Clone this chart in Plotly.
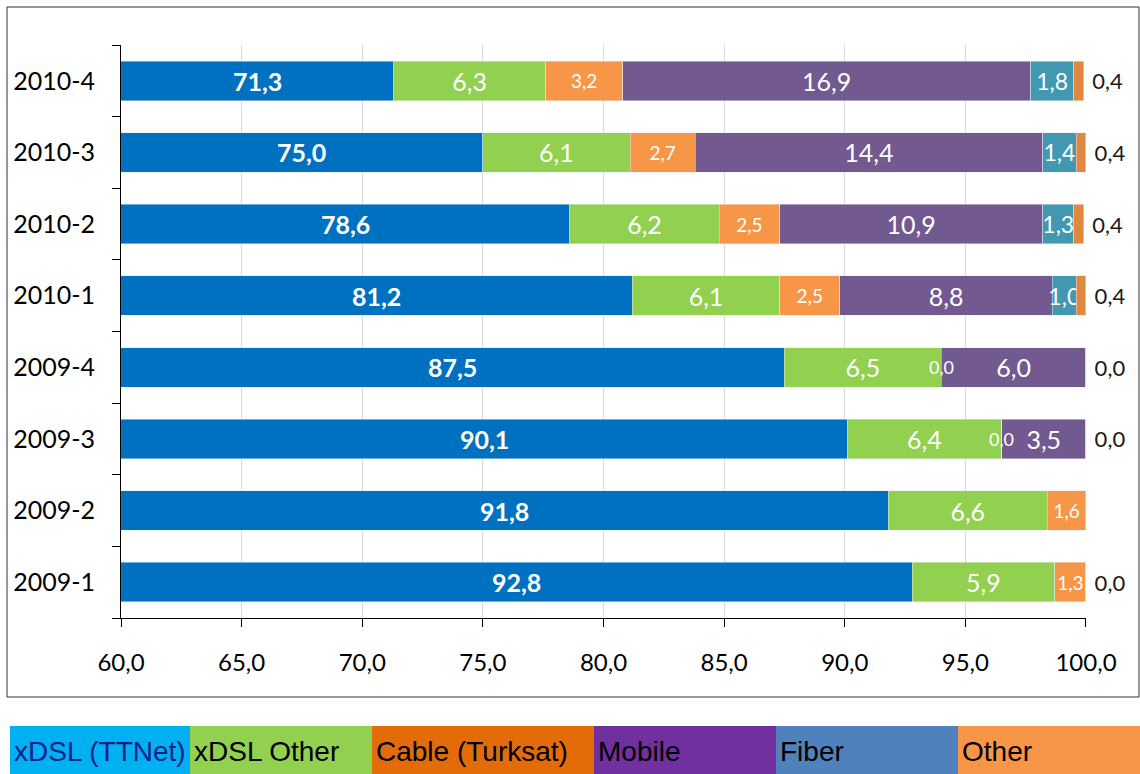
import plotly.graph_objects as go

# quarters, bottom to top
quarters = ["2009-1", "2009-2", "2009-3", "2009-4", "2010-1", "2010-2", "2010-3", "2010-4"]

xdsl_ttnet = [92.8, 91.8, 90.1, 87.5, 81.2, 78.6, 75.0, 71.3]
xdsl_other = [5.9, 6.6, 6.4, 6.5, 6.1, 6.2, 6.1, 6.3]
cable = [1.3, 1.6, 0.0, 0.0, 2.5, 2.5, 2.7, 3.2]
mobile = [None, None, 3.5, 6.0, 8.8, 10.9, 14.4, 16.9]
fiber = [None, None, None, None, 1.0, 1.3, 1.4, 1.8]
other = [0.0, None, 0.0, 0.0, 0.4, 0.4, 0.4, 0.4]

legend_names = ["xDSL (TTNet)", "xDSL Other", "Cable (Turksat)", "Mobile", "Fiber", "Other"]

FONT = "Lato"
W, H = 1140, 774
L, R, T, B = 121, 1086, 45, 618


def px(x):
    return (x - L) / (R - L)


def py(y):
    return (B - y) / (B - T)


def fmt(v):
    return f"{v:.1f}".replace(".", ",")


def inside_bar(vals, name, color, size):
    return go.Bar(y=quarters, x=vals, orientation="h", name=name, marker_color=color,
                  texttemplate="%{x:.1f}", textposition="inside", insidetextanchor="middle",
                  constraintext="none", textangle=0,
                  textfont=dict(color="white", size=size, family=FONT))


fig = go.Figure()

fig.add_trace(go.Bar(y=quarters, x=xdsl_ttnet, orientation="h", name=legend_names[0],
                     marker_color="#0070C0", textposition="none"))
fig.add_trace(inside_bar(xdsl_other, legend_names[1], "#92D050", 25))
fig.add_trace(inside_bar(cable, legend_names[2], "#F79646", 19))
fig.add_trace(inside_bar(mobile, legend_names[3], "#72598F", 25))
fig.add_trace(inside_bar(fiber, legend_names[4], "#4298B0", 23))
fig.add_trace(go.Bar(y=quarters, x=other, orientation="h", name=legend_names[5],
                     marker_color="#E0883F", texttemplate=" %{x:.1f}", textposition="outside",
                     constraintext="none", cliponaxis=False, textangle=0,
                     outsidetextfont=dict(color="#1a1a1a", size=22, family=FONT)))

annotations = []
# TTNet labels centred in the visible part of the bar
for q, v in zip(quarters, xdsl_ttnet):
    annotations.append(dict(x=(60 + v) / 2, y=q, xref="x", yref="y", text=fmt(v),
                            showarrow=False, font=dict(color="white", size=25, family=FONT, weight="bold")))
# zero-width cable labels
for q, t, o, c in zip(quarters, xdsl_ttnet, xdsl_other, cable):
    if c == 0:
        annotations.append(dict(x=t + o, y=q, xref="x", yref="y", text=fmt(c),
                                showarrow=False, font=dict(color="white", size=18, family=FONT)))

# custom legend strip
edges = [10, 190, 372, 594, 776, 958, 1140]
box_colors = ["#00B0F0", "#92D050", "#E36C09", "#7030A0", "#4F81BD", "#F79646"]
text_colors = ["#0E1F8C", "black", "black", "black", "black", "black"]
shapes = [dict(type="rect", xref="paper", yref="paper", x0=px(7), x1=px(1139), y0=py(697), y1=py(7),
               line=dict(color="#333333", width=1), fillcolor="rgba(0,0,0,0)", layer="below")]
for i, name in enumerate(legend_names):
    shapes.append(dict(type="rect", xref="paper", yref="paper", x0=px(edges[i]), x1=px(edges[i + 1]),
                       y0=py(774), y1=py(726), line=dict(width=0), fillcolor=box_colors[i]))
    annotations.append(dict(x=px(edges[i] + 2), y=py(751), xref="paper", yref="paper", text=name,
                            xanchor="left", yanchor="middle", showarrow=False,
                            font=dict(family="Liberation Sans, Arial", size=28, color=text_colors[i])))

fig.update_layout(
    barmode="stack",
    bargap=0.45,
    width=W, height=H,
    margin=dict(l=L, r=W - R, t=T, b=H - B),
    paper_bgcolor="white", plot_bgcolor="white",
    separators=",.",
    showlegend=False,
    shapes=shapes,
    annotations=annotations,
    font=dict(family=FONT, color="black"),
    xaxis=dict(range=[60, 100.0005], tickvals=[60, 65, 70, 75, 80, 85, 90, 95, 100], tickformat=".1f",
               showgrid=True, gridcolor="#D9D9D9",
               showline=True, linecolor="black", linewidth=1, ticks="outside", ticklen=8,
               tickcolor="black", tickfont=dict(size=24, family=FONT, color="black"),
               ticklabelstandoff=15, zeroline=False),
    yaxis=dict(type="category", categoryorder="array", categoryarray=quarters,
               showline=True, linecolor="black", linewidth=1, ticks="outside", ticklen=8,
               tickcolor="black", tickson="boundaries", showgrid=False,
               tickfont=dict(size=25, family=FONT, color="black"), ticklabelstandoff=20),
)

fig.write_html("out.html", config={"displayModeBar": False},
               post_script="document.body.style.margin='0';")
